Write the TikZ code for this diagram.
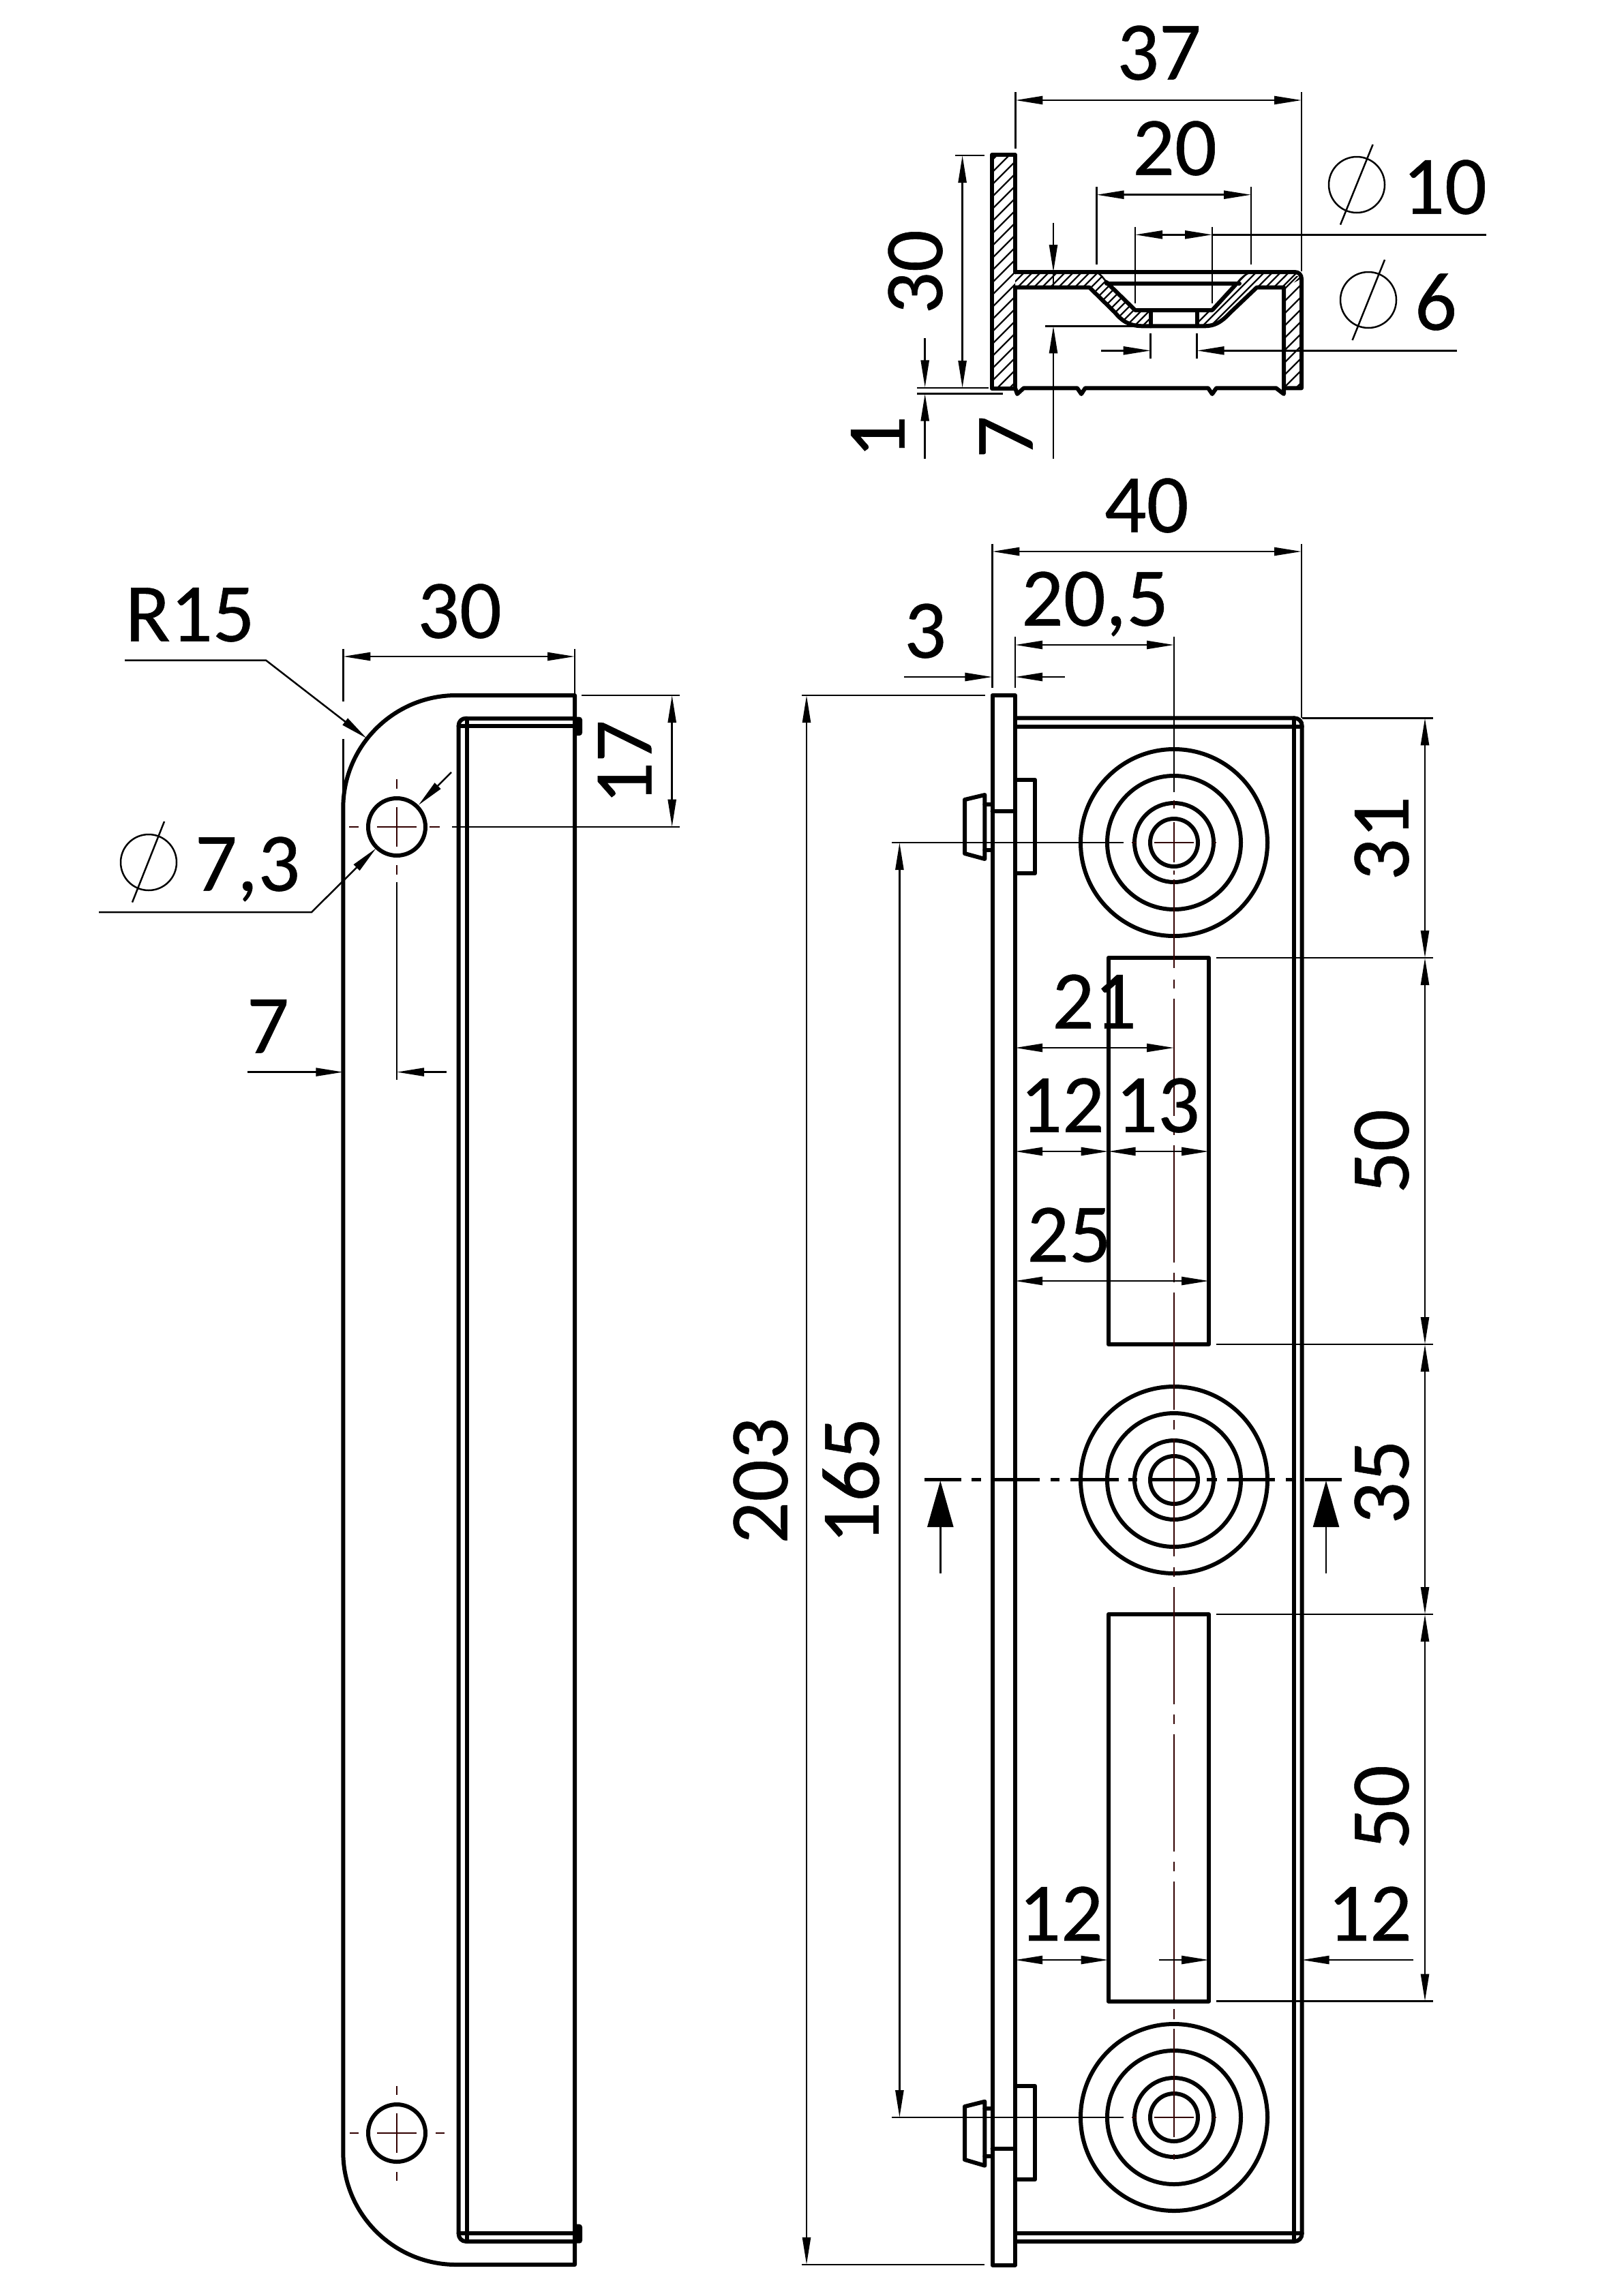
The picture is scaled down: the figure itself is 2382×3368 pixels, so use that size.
\documentclass[tikz,border=0pt]{standalone}
\usepackage{fontspec}
\setmainfont[FakeBold=0.45]{Carlito}
\usetikzlibrary{arrows.meta}
\definecolor{centerc}{RGB}{50,0,0}
\tikzset{
  main/.style={line width=3pt,line join=round,line cap=round},
  thinl/.style={line width=1.25pt},
  hatchl/.style={line width=1.1pt},
  centerl/.style={line width=1.15pt,draw=centerc},
  dimtip/.tip={Triangle[length=20pt,width=6pt]},
  dimboth/.style={thinl,{dimtip}-{dimtip}},
  dimend/.style={thinl,-{dimtip}},
  cutline/.style={line width=2.4pt},
  cutarrow/.style={line width=1.25pt,-{Triangle[length=34pt,width=19pt]}},
  dimtext/.style={font=\fontsize{61}{70}\selectfont,inner sep=0pt,text height=38.7pt,text depth=0pt},
  dimrot/.style={dimtext,rotate=90},
}
\begin{document}
\begin{tikzpicture}[x=0.5pt,y=-0.5pt]
\useasboundingbox (0,0) rectangle (2382,3368);
\fill[white] (0,0) rectangle (2382,3368);

%% ---------- SECTION VIEW ----------
\begin{scope}
  \clip (1455,227) rectangle (1489,570);
  \foreach \c in {1690,1708,...,2070} \draw[hatchl] (\c-200,200) -- (\c-600,600);
\end{scope}
\begin{scope}
  \clip (1883,405) rectangle (1909,569);
  \foreach \c in {2290,2308,...,2490} \draw[hatchl] (\c-380,380) -- (\c-600,600);
\end{scope}
\begin{scope}
  \clip (1489,399) -- (1606.7,399) .. controls (1615,400) and (1620,408) .. (1630,420) -- (1665,455)
     -- (1687.7,455) -- (1687.7,478.3) -- (1675,478.3) .. controls (1655,478) and (1645,470) .. (1635,458)
     -- (1598,421.7) -- (1489,421.7) -- cycle;
  \foreach \c in {1890,1902,...,2190} \draw[hatchl] (\c-380,380) -- (\c-500,500);
\end{scope}
\begin{scope}
  \clip (1756,455) -- (1778,455) -- (1812,418) .. controls (1820,408) and (1828,400) .. (1837,399)
     -- (1899,399) .. controls (1905,399) and (1909,403) .. (1909,409) -- (1883,421.7) -- (1843.3,421.7)
     -- (1803,460) .. controls (1790,474) and (1780,478) .. (1768,478.3) -- (1756,478.3) -- cycle;
  \foreach \c in {2230,2242,...,2320} \draw[hatchl] (\c-380,380) -- (\c-500,500);
\end{scope}
% outline
\draw[main] (1489,399) -- (1489,227) -- (1455,227) -- (1455,570) -- (1489,570) -- (1489,421.7);
\draw[main] (1489,399) -- (1899,399) .. controls (1905,399) and (1909,403) .. (1909,409)
   -- (1909,569.3) -- (1883,569.3) -- (1883,421.7) -- (1843.3,421.7)
   -- (1803,460) .. controls (1790,474) and (1780,478) .. (1768,478.3) -- (1675,478.3)
   .. controls (1655,478) and (1645,470) .. (1635,458) -- (1598,421.7) -- (1489,421.7);
\draw[main] (1623,414) -- (1665,455) -- (1778,455) -- (1812,418);
\draw[thinl] (1606.7,399) .. controls (1612,400) and (1617,406) .. (1623,414);
\draw[thinl] (1812,418) .. controls (1820,408) and (1828,400) .. (1837,399);
\draw[main] (1623,415.7) -- (1818,415.7);
\draw[main] (1687.7,455) -- (1687.7,478.3) (1756,455) -- (1756,478.3);
\draw[main] (1489,569.3) -- (1492,578) -- (1501.5,569.3) -- (1580,569.3) -- (1586,578) -- (1591.7,569.3)
   -- (1772,569.3) -- (1778,578) -- (1784,569.3) -- (1871.7,569.3) -- (1883,578) -- (1883,569.3);
% section dimensions
\draw[dimboth] (1489.4,147) -- (1909,147);
\draw[thinl] (1489.4,135) -- (1489.4,218) (1909,135) -- (1909,398);
\node[dimtext] (t37) at (1700,78) {37};
\draw[dimboth] (1608.5,285.7) -- (1835,285.7);
\draw[thinl] (1608.5,274) -- (1608.5,388) (1835,274) -- (1835,388);
\node[dimtext] (t20) at (1723,218) {20};
\draw[dimboth] (1665,344.3) -- (1778,344.3);
\draw[thinl] (1778,344.3) -- (2180,344.3);
\draw[thinl] (1665,332.7) -- (1665,445) (1778,332.7) -- (1778,445);
\draw[thinl] (1990,271) circle[radius=20.5pt];
\draw[thinl] (2013.6,212) -- (1966,329.6);
\node[dimtext] (t10) at (2119,275) {10};
\draw[dimend] (1615,514.3) -- (1687.7,514.3);
\draw[dimend] (2137,514.3) -- (1755.7,514.3);
\draw[thinl] (1687.7,489) -- (1687.7,526) (1755.7,489) -- (1755.7,526);
\draw[thinl] (2007,440) circle[radius=20.5pt];
\draw[thinl] (2031,381) -- (1983.6,499);
\node[dimtext] (t6) at (2106,445) {6};
\draw[dimboth] (1411.6,228) -- (1411.6,569);
\draw[thinl] (1400.7,228) -- (1444,228) (1345,569) -- (1450,569);
\node[dimrot] (t30) at (1343,399) {30};
\draw[dimend] (1356.7,496) -- (1356.7,568.4);
\draw[dimend] (1356.7,672.6) -- (1356.7,577.6);
\draw[thinl] (1345,577.6) -- (1471,577.6);
\node[dimrot] (t1) at (1288,641) {1};
\draw[dimend] (1545,326.7) -- (1545,399);
\draw[thinl] (1545,399) -- (1545,421);
\draw[dimend] (1545,672.6) -- (1545,478.3);
\draw[thinl] (1533,478.3) -- (1670,478.3);
\node[dimrot] (t7b) at (1476,641) {7};

%% ---------- RIGHT VIEW ----------
\draw[main] (1455.5,1020) rectangle (1489,3322.5);
\draw[main] (1489,1053.3) -- (1898,1053.3) .. controls (1905,1053.3) and (1909.7,1058) .. (1909.7,1065)
   -- (1909.7,3276) .. controls (1909.7,3283) and (1905,3288) .. (1898,3288) -- (1489,3288);
\draw[main] (1489,1065.7) -- (1909.7,1065.7) (1489,3276) -- (1909.7,3276);
\draw[main] (1898,1053.3) -- (1898,3288);
% slots
\draw[main] (1625.6,1405) rectangle (1773,1972);
\draw[main] (1625.6,2368) rectangle (1773,2935.5);
% washers and rivets
\draw[main] (1489,1144) -- (1518.4,1144) -- (1518.4,1281) -- (1489,1281);
\draw[main] (1489,3060) -- (1518.4,3060) -- (1518.4,3197) -- (1489,3197);
\draw[main] (1415,1173) -- (1444.4,1166) -- (1444.4,1260) -- (1415,1252) -- cycle;
\draw[main] (1415,3090) -- (1444.4,3082.7) -- (1444.4,3176.7) -- (1415,3168) -- cycle;
\draw[main] (1444.4,1180) -- (1455.5,1180) (1444.4,1247) -- (1455.5,1247) (1455.5,1190) -- (1489,1190);
\draw[main] (1444.4,3093) -- (1455.5,3093) (1444.4,3163) -- (1455.5,3163) (1455.5,3151.7) -- (1489,3151.7);
% concentric circles
\foreach \cy in {1236,2171,3106} {
  \draw[main] (1722,\cy) circle[radius=68.5pt];
  \draw[main] (1722,\cy) circle[radius=49pt];
  \draw[main] (1722,\cy) circle[radius=29pt];
  \draw[main] (1722,\cy) circle[radius=17.5pt];
}
% vertical centre line
\draw[thinl] (1722,934) -- (1722,1162);
\foreach \a/\b in {1174/1186,1206/1265,1277/1283,1290/1420,1437/1450,1465/1637,1652/1665,1680/1852,
  1867/1881,1896/2068,2083/2097,2110/2283,2299/2313,2328/2500,2515/2529,2544/2716,2731/2745,
  2760/2933,2947/2962,2976/3135,3160/3168}
  \draw[centerl] (1722,\a) -- (1722,\b);
% horizontal centre lines
\foreach \cy in {1236,3106} {
  \draw[thinl] (1308,\cy) -- (1648,\cy);
  \draw[centerl] (1660,\cy) -- (1667,\cy) (1693,\cy) -- (1751,\cy) (1780,\cy) -- (1784,\cy);
}
% section cut line
\foreach \a/\b in {1356/1410,1425/1439,1457/1525,1541/1554,1570/1641,1655/1668,1685/1754,1770/1785,
  1800/1870,1886/1897,1914/1968}
  \draw[cutline] (\a,2170.7) -- (\b,2170.7);
\draw[cutarrow] (1379.3,2308) -- (1379.3,2172);
\draw[cutarrow] (1945,2308) -- (1945,2172);
% top dimensions
\draw[dimboth] (1455.4,809) -- (1909,809);
\draw[thinl] (1455.4,797.7) -- (1455.4,1009) (1909,797.7) -- (1909,1053);
\node[dimtext] (t40) at (1681.7,742) {40};
\draw[dimboth] (1489,946) -- (1722,946);
\draw[thinl] (1489,934) -- (1489,1009);
\node[dimtext] (t205) at (1606,879) {20,5};
\draw[dimend] (1326,993) -- (1455.4,993);
\draw[dimend] (1561.6,993) -- (1489,993);
\node[dimtext] (t3) at (1357,926) {3};
% inner dimensions
\draw[dimboth] (1489,1537) -- (1722,1537);
\node[dimtext] (t21) at (1605,1470) {21};
\draw[dimboth] (1489,1689) -- (1625.6,1689);
\draw[dimboth] (1625.6,1689) -- (1773,1689);
\node[dimtext] (t12a) at (1558,1622) {12};
\node[dimtext] (t13) at (1698,1622) {13};
\draw[dimboth] (1489,1879) -- (1773,1879);
\node[dimtext] (t25) at (1568,1812) {25};
\draw[dimboth] (1489,2875) -- (1625.6,2875);
\node[dimtext] (t12b) at (1556,2808) {12};
\draw[dimend] (1700,2875) -- (1773,2875);
\draw[dimend] (2073,2875) -- (1909.5,2875);
\node[dimtext] (t12c) at (2009,2808) {12};
% right dimensions
\draw[thinl] (1910,1053.3) -- (2102,1053.3);
\foreach \yy in {1405,1972,2368,2935.5} \draw[thinl] (1784,\yy) -- (2102,\yy);
\draw[dimboth] (2090,1053.3) -- (2090,1405);
\draw[dimboth] (2090,1405) -- (2090,1972);
\draw[dimboth] (2090,1972) -- (2090,2368);
\draw[dimboth] (2090,2368) -- (2090,2935.5);
\node[dimrot] (t31) at (2027,1230) {31};
\node[dimrot] (t50a) at (2027,1689) {50};
\node[dimrot] (t35) at (2027,2174) {35};
\node[dimrot] (t50b) at (2027,2651) {50};
% left long dimensions
\draw[dimboth] (1319.4,1236) -- (1319.4,3106);
\node[dimrot] (t165) at (1250,2172) {165};
\draw[dimboth] (1183,1020) -- (1183,3322);
\draw[thinl] (1176,1020) -- (1445,1020) (1176,3322) -- (1444,3322);
\node[dimrot] (t203) at (1116,2172) {203};

%% ---------- LEFT VIEW ----------
\draw[main] (503.3,1185) .. controls (503.3,1094) and (578,1020) .. (669,1020) -- (843,1020) -- (843,3322)
   -- (669,3322) .. controls (578,3322) and (503.3,3248) .. (503.3,3157) -- cycle;
\draw[main] (684,1053.7) -- (843,1053.7);
\draw[main] (684,1053.7) .. controls (677,1053.7) and (672.6,1058) .. (672.6,1065) -- (672.6,3276)
   .. controls (672.6,3283) and (677,3288) .. (684,3288) -- (843,3288);
\draw[main] (672.6,1065.4) -- (843,1065.4) (672.6,3276) -- (843,3276);
\draw[main] (684.5,1053.7) -- (684.5,3288);
\fill[rounded corners=2pt] (841,1051.7) rectangle (854,1079);
\fill[rounded corners=2pt] (841,3262.7) rectangle (854,3290.7);
% holes
\draw[main] (582,1213) circle[radius=21pt];
\draw[main] (582,3129) circle[radius=21pt];
\draw[centerl] (553,1213) -- (611,1213) (582,1184) -- (582,1242);
\draw[centerl] (512,1213) -- (526,1213) (630,1213) -- (645,1213);
\draw[centerl] (582,1143) -- (582,1157) (582,1269) -- (582,1283);
\draw[centerl] (553,3129) -- (611,3129) (582,3100) -- (582,3158);
\draw[centerl] (513,3129) -- (526,3129) (639,3129) -- (652,3129);
\draw[centerl] (582,3060) -- (582,3073) (582,3186) -- (582,3199);
% left view dimensions
\draw[dimboth] (503.3,963) -- (843,963);
\draw[thinl] (503.3,951.6) -- (503.3,1029) (503.3,1084) -- (503.3,1185) (843,951.6) -- (843,1020);
\node[dimtext] (t30b) at (674,897) {30};
\node[dimtext] (tr15) at (278.6,902) {R15};
\draw[dimend] (183,968.5) -- (390,968.5) -- (537.8,1083);
\draw[dimend] (145,1338) -- (457,1338) -- (551.5,1244.5);
\draw[dimend] (662,1132.8) -- (613.8,1181);
\draw[thinl] (218,1265) circle[radius=20.5pt];
\draw[thinl] (241,1205) -- (194,1323.6);
\node[dimtext] (t73) at (363,1268) {7,3};
\draw[thinl] (663,1213) -- (997,1213);
\draw[thinl] (853,1020) -- (997,1020);
\draw[dimboth] (985.7,1020) -- (985.7,1212.7);
\node[dimrot] (t17) at (916.7,1118) {17};
\draw[thinl] (582,1293.5) -- (582,1584);
\draw[dimend] (362.8,1572.6) -- (503.3,1572.6);
\draw[dimend] (654.6,1572.6) -- (582,1572.6);
\node[dimtext] (t7a) at (393,1506) {7};
\end{tikzpicture}
\end{document}
